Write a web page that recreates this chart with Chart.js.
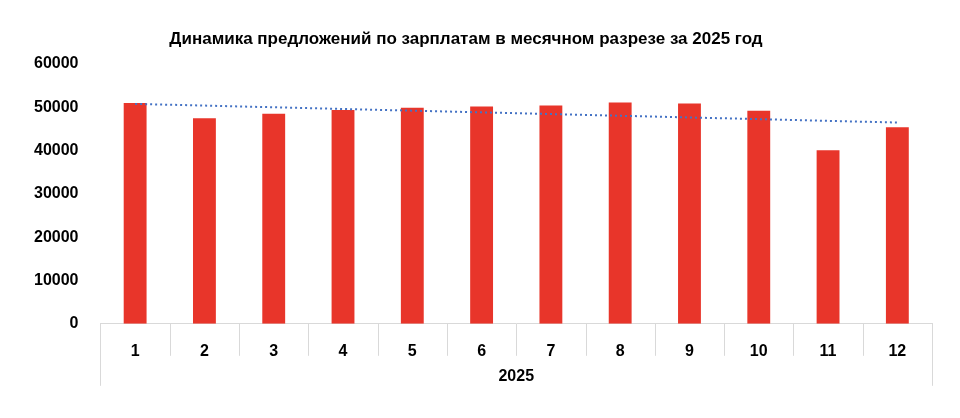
<!DOCTYPE html>
<html><head><meta charset="utf-8">
<script src="https://cdn.jsdelivr.net/npm/chart.js@4"></script>
<style>body{margin:0;background:#fff}#wrap{width:960px;height:418px}</style>
</head><body><div id="wrap"><canvas id="c"></canvas></div>
<script>
// Data
const months = ['1','2','3','4','5','6','7','8','9','10','11','12'];
const offers = [51000, 47500, 48500, 49400, 49900, 50200, 50400, 51100, 50900, 49200, 40100, 45400];
const yearLabel = '2025';
const title = 'Динамика предложений по зарплатам в месячном разрезе за 2025 год';

// linear trend line (least squares) over the bars
function trend(vals) {
    const n = vals.length;
    let sx = 0, sy = 0, sxy = 0, sxx = 0;
    vals.forEach((v, i) => { sx += i; sy += v; sxy += i * v; sxx += i * i; });
    const b = (n * sxy - sx * sy) / (n * sxx - sx * sx);
    const a = (sy - b * sx) / n;
    return vals.map((v, i) => a + b * i);
}

// title, category separators and the year row under the x axis
const groupAxis = {
    id: 'groupAxis',
    afterDraw(chart) {
        const { ctx, scales: { x, y } } = chart;
        const top = y.bottom, step = x.getPixelForValue(1) - x.getPixelForValue(0);
        ctx.save();
        ctx.strokeStyle = '#d9d9d9';
        ctx.lineWidth = 1;
        for (let i = 0; i <= months.length; i++) {
            const px = Math.round(x.getPixelForValue(i) - step / 2) + 0.5;
            const bottom = (i === 0 || i === months.length) ? top + 62 : top + 32;
            ctx.beginPath(); ctx.moveTo(px, top); ctx.lineTo(px, bottom); ctx.stroke();
        }
        ctx.fillStyle = '#000';
        ctx.font = 'bold 16px "Liberation Sans", Arial, sans-serif';
        ctx.textAlign = 'center';
        ctx.textBaseline = 'middle';
        ctx.fillText(yearLabel, (x.left + x.right) / 2, top + 53);
        ctx.font = 'bold 17px "Liberation Sans", Arial, sans-serif';
        ctx.fillText(title, 466, 39);
        ctx.restore();
    }
};

new Chart(document.getElementById('c'), {
    data: {
        labels: months,
        datasets: [
            { type: 'line', data: trend(offers), borderColor: '#4472c4', borderWidth: 2,
              borderDash: [2, 3], pointRadius: 0, fill: false, order: 0 },
            { type: 'bar', data: offers, backgroundColor: '#e8352a', barPercentage: 0.33,
              categoryPercentage: 1, order: 1 }
        ]
    },
    options: {
        responsive: true, maintainAspectRatio: false, animation: false,
        layout: { padding: { left: 20, right: 28, top: 64, bottom: 47 } },
        plugins: { legend: { display: false }, tooltip: { enabled: false } },
        scales: {
            x: {
                grid: { display: false },
                border: { color: '#d9d9d9' },
                ticks: { color: '#000', padding: 10, font: { family: '"Liberation Sans", Arial, sans-serif', size: 16, weight: 'bold' } }
            },
            y: {
                min: 0, max: 60000,
                ticks: { stepSize: 10000, color: '#000', padding: 14, callback: v => String(v),
                         font: { family: '"Liberation Sans", Arial, sans-serif', size: 16, weight: 'bold' } },
                grid: { display: false },
                border: { display: false }
            }
        }
    },
    plugins: [groupAxis]
});
</script></body></html>
